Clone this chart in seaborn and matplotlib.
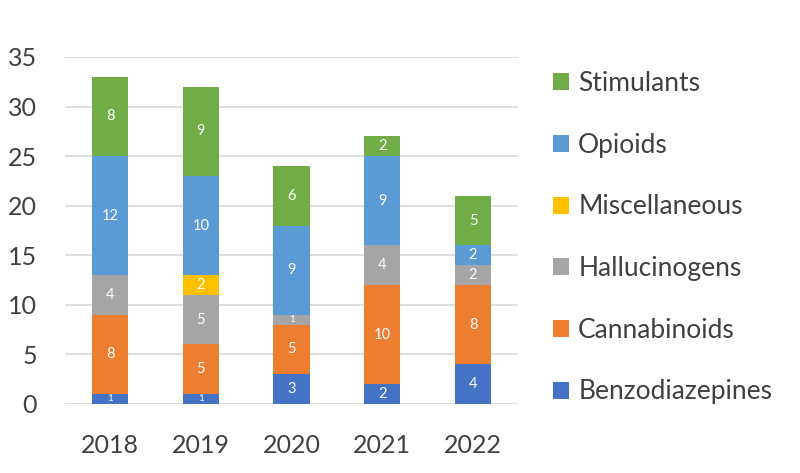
import numpy as np
import pandas as pd
import matplotlib
matplotlib.use("Agg")
import matplotlib.pyplot as plt
from matplotlib.patches import Patch
import seaborn as sns

# values
years = ["2018", "2019", "2020", "2021", "2022"]
benzodiazepines = [1, 1, 3, 2, 4]
cannabinoids = [8, 5, 5, 10, 8]
hallucinogens = [4, 5, 1, 4, 2]
miscellaneous = [0, 2, 0, 0, 0]
opioids = [12, 10, 9, 9, 2]
stimulants = [8, 9, 6, 2, 5]

classes = ["Benzodiazepines", "Cannabinoids", "Hallucinogens",
           "Miscellaneous", "Opioids", "Stimulants"]
series = [benzodiazepines, cannabinoids, hallucinogens,
          miscellaneous, opioids, stimulants]
colors = ["#4472C4", "#ED7D31", "#A5A5A5", "#FFC000", "#5B9BD5", "#70AD47"]

sns.set_theme(style="white")
plt.rcParams["font.family"] = ["Lato", "DejaVu Sans"]

df = pd.DataFrame(dict(zip(classes, series)), index=years)
cum = df.cumsum(axis=1)

fig = plt.figure(figsize=(8, 4.73), dpi=100)
ax = fig.add_axes([0.081, 0.146, 0.567, 0.7335])

# draw the cumulative totals from the top layer down so each layer shows
for cls, col in zip(classes[::-1], colors[::-1]):
    sns.barplot(x=years, y=cum[cls].values, color=col, width=0.4,
                saturation=1, linewidth=0, ax=ax, zorder=3)

# segment labels
for i, yr in enumerate(years):
    bottom = 0
    for cls in classes:
        v = df.loc[yr, cls]
        if v > 0:
            ax.text(i, bottom + v / 2, str(v), ha="center", va="center",
                    color="white", fontsize=7 if v == 1 else 10.5, zorder=4)
        bottom += v

ax.set_ylim(0, 35)
ax.set_xlim(-0.5, 4.5)
ax.set_yticks(range(0, 36, 5))
ax.yaxis.grid(True, color="#D9D9D9", linewidth=1.2, zorder=0)
ax.set_axisbelow(True)
for s in ax.spines.values():
    s.set_visible(False)
ax.tick_params(axis="both", length=0, labelsize=18, labelcolor="#404040")
ax.tick_params(axis="x", pad=22)
ax.tick_params(axis="y", pad=20)
ax.set_xlabel("")
ax.set_ylabel("")

handles = [Patch(facecolor=c, edgecolor="none") for c in colors[::-1]]
fig.legend(handles, classes[::-1], loc="upper left",
           bbox_to_anchor=(0.661, 0.90), frameon=False, fontsize=19,
           labelcolor="#404040", handlelength=0.62, handleheight=0.62,
           handletextpad=0.35, labelspacing=1.39)

fig.savefig("out.png", dpi=100)
